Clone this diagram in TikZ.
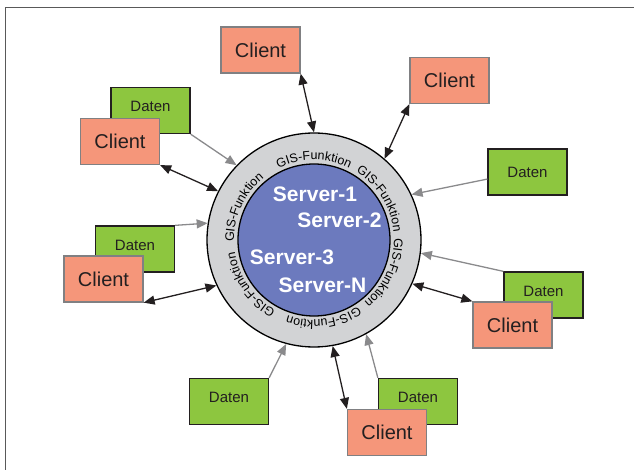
\documentclass[tikz,border=0pt]{standalone}
\usepackage{fontspec}
\setmainfont{Liberation Sans}
\usepackage{tikz}
\usetikzlibrary{arrows.meta}
\usetikzlibrary{positioning}
\usetikzlibrary{decorations.text}

\definecolor{clientrot}{RGB}{245,150,122}
\definecolor{datengruen}{RGB}{141,198,63}
\definecolor{serverblau}{RGB}{108,122,190}
\definecolor{ringgrau}{RGB}{210,211,213}
\definecolor{pfeilgrau}{RGB}{138,138,140}
\definecolor{randgrau}{RGB}{128,128,130}
\definecolor{textdunkel}{RGB}{35,31,32}

\begin{document}
\begin{tikzpicture}[
    x=1pt, y=1pt,
    client/.style={rectangle, draw=randgrau, line width=1.3pt, fill=clientrot, minimum width=79pt, minimum height=46pt, inner sep=0pt, font=\fontsize{20}{24}\selectfont, text=textdunkel},
    daten/.style={rectangle, draw=textdunkel, line width=1.3pt, fill=datengruen, minimum width=79pt, minimum height=46pt, inner sep=0pt, text depth=8pt, font=\fontsize{15}{18}\selectfont, text=textdunkel},
    server/.style={inner sep=0pt, text=white, font=\bfseries\fontsize{21}{24}\selectfont},
    zugriff/.style={<->, >={Triangle[length=11pt,width=9pt]}, line width=1.3pt, draw=textdunkel},
    lieferung/.style={->, >={Triangle[length=11pt,width=9pt]}, line width=1.3pt, draw=pfeilgrau}
]
\useasboundingbox (0,0) rectangle (634,-470);

% Rahmen
\draw[line width=1pt, draw=gray!70!black] (5,-470) -- (5,-8) -- (634,-8);

% Ring mit GIS-Funktionen und Serverkern
\node[circle, draw, line width=1.3pt, fill=ringgrau, minimum size=214pt, inner sep=0pt] (ring) at (314,-240) {};
\node[circle, draw, line width=1.3pt, fill=serverblau, minimum size=152pt, inner sep=0pt] (kern) at (314,-240) {};

\foreach \w [evaluate=\w as \wa using \w+45, evaluate=\w as \we using \w-45] in {90,32,-25,-83,-145,155}
  \path[decorate, decoration={text along path, text align=center,
      text={|\fontsize{12.5}{15}\selectfont|GIS-Funktion}}]
    (ring.center) ++(\wa:80) arc[start angle=\wa, end angle=\we, radius=80];

% Server
\node[server] (s1) at (315,-194.5) {Server-1};
\node[server] (s2) at (339.5,-220) {Server-2};
\node[server] (s3) at (292,-257) {Server-3};
\node[server] (sn) at (322.5,-285.5) {Server-N};

% Datenquellen
\node[daten] (daten3) at (150.5,-110.5) {Daten};
\node[daten, text depth=0pt] (daten4) at (527.5,-172) {Daten};
\node[daten] (daten5) at (135,-249) {Daten};
\node[daten] (daten6) at (543.5,-295) {Daten};
\node[daten] (daten7) at (229,-401.5) {Daten};
\node[daten] (daten8) at (418,-401.5) {Daten};

% Clients
\node[client] (client1) at (260.5,-50) {Client};
\node[client] (client2) at (449.5,-80.5) {Client};
\node[client] (client3) at (120,-141.5) {Client};
\node[client] (client5) at (103.5,-279) {Client};
\node[client] (client6) at (512.5,-325) {Client};
\node[client] (client8) at (387,-432.5) {Client};

% Zugriffe der Clients
\draw[zugriff] (client1.south east) -- (ring.90);
\draw[zugriff] (client2.south west) -- (ring.49);
\draw[zugriff] (client3.south east) -- (ring.153);
\draw[zugriff] (client5.south east) -- (ring.205);
\draw[zugriff] (client6.north west) -- (ring.-24);
\draw[zugriff] (client8.north west) -- (ring.-80);

% Datenlieferung
\draw[lieferung] (daten3.south east) -- (ring.136);
\draw[lieferung] (daten4.190) -- (ring.25);
\draw[lieferung] (daten5.north east) -- (ring.171);
\draw[lieferung] (daten6.north west) -- (ring.-7);
\draw[lieferung] (daten7.north east) -- (ring.-105);
\draw[lieferung] (daten8.north west) -- (ring.-61);

\end{tikzpicture}
\end{document}
